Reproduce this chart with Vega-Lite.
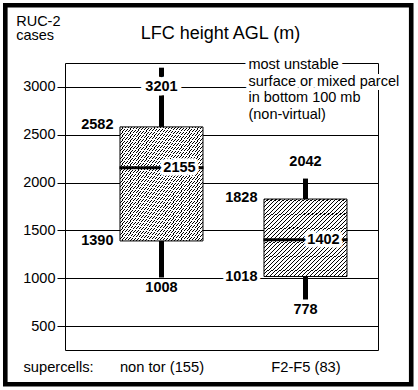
{
"$schema": "https://vega.github.io/schema/vega-lite/v6.json",
"width": 313, "height": 287,
"autosize": {"type": "none"},
"padding": {"left": 65, "top": 63, "right": 40, "bottom": 40},
"background": "white",
"config": {"view": {"stroke": null}, "font": "Liberation Sans", "scale": {"continuousPadding": 0}},
"data": {"values": [
 {"group": "non tor (155)", "pos": 1, "lower": 1008, "q1": 1390, "median": 2155, "q3": 2582, "upper": 3201},
 {"group": "F2-F5 (83)", "pos": 2, "lower": 778, "q1": 1018, "median": 1402, "q3": 1828, "upper": 2042}
]},
"layer": [
 {"transform": [{"filter": "datum.pos == 1"}],
  "mark": {"type": "bar", "width": 83, "stroke": "black", "strokeWidth": 1, "fill": {"gradient": "linear", "x1": 0, "y1": 0, "x2": 1, "y2": 1, "stops": [
{"offset":0,"color":"#000"},{"offset":0.0047,"color":"#000"},{"offset":0.0047,"color":"#fff"},{"offset":0.0175,"color":"#fff"},
{"offset":0.0175,"color":"#000"},{"offset":0.0223,"color":"#000"},{"offset":0.0223,"color":"#fff"},{"offset":0.0351,"color":"#fff"},
{"offset":0.0351,"color":"#000"},{"offset":0.0398,"color":"#000"},{"offset":0.0398,"color":"#fff"},{"offset":0.0526,"color":"#fff"},
{"offset":0.0526,"color":"#000"},{"offset":0.0574,"color":"#000"},{"offset":0.0574,"color":"#fff"},{"offset":0.0702,"color":"#fff"},
{"offset":0.0702,"color":"#000"},{"offset":0.0749,"color":"#000"},{"offset":0.0749,"color":"#fff"},{"offset":0.0877,"color":"#fff"},
{"offset":0.0877,"color":"#000"},{"offset":0.0925,"color":"#000"},{"offset":0.0925,"color":"#fff"},{"offset":0.1053,"color":"#fff"},
{"offset":0.1053,"color":"#000"},{"offset":0.1100,"color":"#000"},{"offset":0.1100,"color":"#fff"},{"offset":0.1228,"color":"#fff"},
{"offset":0.1228,"color":"#000"},{"offset":0.1275,"color":"#000"},{"offset":0.1275,"color":"#fff"},{"offset":0.1404,"color":"#fff"},
{"offset":0.1404,"color":"#000"},{"offset":0.1451,"color":"#000"},{"offset":0.1451,"color":"#fff"},{"offset":0.1579,"color":"#fff"},
{"offset":0.1579,"color":"#000"},{"offset":0.1626,"color":"#000"},{"offset":0.1626,"color":"#fff"},{"offset":0.1754,"color":"#fff"},
{"offset":0.1754,"color":"#000"},{"offset":0.1802,"color":"#000"},{"offset":0.1802,"color":"#fff"},{"offset":0.1930,"color":"#fff"},
{"offset":0.1930,"color":"#000"},{"offset":0.1977,"color":"#000"},{"offset":0.1977,"color":"#fff"},{"offset":0.2105,"color":"#fff"},
{"offset":0.2105,"color":"#000"},{"offset":0.2153,"color":"#000"},{"offset":0.2153,"color":"#fff"},{"offset":0.2281,"color":"#fff"},
{"offset":0.2281,"color":"#000"},{"offset":0.2328,"color":"#000"},{"offset":0.2328,"color":"#fff"},{"offset":0.2456,"color":"#fff"},
{"offset":0.2456,"color":"#000"},{"offset":0.2504,"color":"#000"},{"offset":0.2504,"color":"#fff"},{"offset":0.2632,"color":"#fff"},
{"offset":0.2632,"color":"#000"},{"offset":0.2679,"color":"#000"},{"offset":0.2679,"color":"#fff"},{"offset":0.2807,"color":"#fff"},
{"offset":0.2807,"color":"#000"},{"offset":0.2854,"color":"#000"},{"offset":0.2854,"color":"#fff"},{"offset":0.2982,"color":"#fff"},
{"offset":0.2982,"color":"#000"},{"offset":0.3030,"color":"#000"},{"offset":0.3030,"color":"#fff"},{"offset":0.3158,"color":"#fff"},
{"offset":0.3158,"color":"#000"},{"offset":0.3205,"color":"#000"},{"offset":0.3205,"color":"#fff"},{"offset":0.3333,"color":"#fff"},
{"offset":0.3333,"color":"#000"},{"offset":0.3381,"color":"#000"},{"offset":0.3381,"color":"#fff"},{"offset":0.3509,"color":"#fff"},
{"offset":0.3509,"color":"#000"},{"offset":0.3556,"color":"#000"},{"offset":0.3556,"color":"#fff"},{"offset":0.3684,"color":"#fff"},
{"offset":0.3684,"color":"#000"},{"offset":0.3732,"color":"#000"},{"offset":0.3732,"color":"#fff"},{"offset":0.3860,"color":"#fff"},
{"offset":0.3860,"color":"#000"},{"offset":0.3907,"color":"#000"},{"offset":0.3907,"color":"#fff"},{"offset":0.4035,"color":"#fff"},
{"offset":0.4035,"color":"#000"},{"offset":0.4082,"color":"#000"},{"offset":0.4082,"color":"#fff"},{"offset":0.4211,"color":"#fff"},
{"offset":0.4211,"color":"#000"},{"offset":0.4258,"color":"#000"},{"offset":0.4258,"color":"#fff"},{"offset":0.4386,"color":"#fff"},
{"offset":0.4386,"color":"#000"},{"offset":0.4433,"color":"#000"},{"offset":0.4433,"color":"#fff"},{"offset":0.4561,"color":"#fff"},
{"offset":0.4561,"color":"#000"},{"offset":0.4609,"color":"#000"},{"offset":0.4609,"color":"#fff"},{"offset":0.4737,"color":"#fff"},
{"offset":0.4737,"color":"#000"},{"offset":0.4784,"color":"#000"},{"offset":0.4784,"color":"#fff"},{"offset":0.4912,"color":"#fff"},
{"offset":0.4912,"color":"#000"},{"offset":0.4960,"color":"#000"},{"offset":0.4960,"color":"#fff"},{"offset":0.5088,"color":"#fff"},
{"offset":0.5088,"color":"#000"},{"offset":0.5135,"color":"#000"},{"offset":0.5135,"color":"#fff"},{"offset":0.5263,"color":"#fff"},
{"offset":0.5263,"color":"#000"},{"offset":0.5311,"color":"#000"},{"offset":0.5311,"color":"#fff"},{"offset":0.5439,"color":"#fff"},
{"offset":0.5439,"color":"#000"},{"offset":0.5486,"color":"#000"},{"offset":0.5486,"color":"#fff"},{"offset":0.5614,"color":"#fff"},
{"offset":0.5614,"color":"#000"},{"offset":0.5661,"color":"#000"},{"offset":0.5661,"color":"#fff"},{"offset":0.5789,"color":"#fff"},
{"offset":0.5789,"color":"#000"},{"offset":0.5837,"color":"#000"},{"offset":0.5837,"color":"#fff"},{"offset":0.5965,"color":"#fff"},
{"offset":0.5965,"color":"#000"},{"offset":0.6012,"color":"#000"},{"offset":0.6012,"color":"#fff"},{"offset":0.6140,"color":"#fff"},
{"offset":0.6140,"color":"#000"},{"offset":0.6188,"color":"#000"},{"offset":0.6188,"color":"#fff"},{"offset":0.6316,"color":"#fff"},
{"offset":0.6316,"color":"#000"},{"offset":0.6363,"color":"#000"},{"offset":0.6363,"color":"#fff"},{"offset":0.6491,"color":"#fff"},
{"offset":0.6491,"color":"#000"},{"offset":0.6539,"color":"#000"},{"offset":0.6539,"color":"#fff"},{"offset":0.6667,"color":"#fff"},
{"offset":0.6667,"color":"#000"},{"offset":0.6714,"color":"#000"},{"offset":0.6714,"color":"#fff"},{"offset":0.6842,"color":"#fff"},
{"offset":0.6842,"color":"#000"},{"offset":0.6889,"color":"#000"},{"offset":0.6889,"color":"#fff"},{"offset":0.7018,"color":"#fff"},
{"offset":0.7018,"color":"#000"},{"offset":0.7065,"color":"#000"},{"offset":0.7065,"color":"#fff"},{"offset":0.7193,"color":"#fff"},
{"offset":0.7193,"color":"#000"},{"offset":0.7240,"color":"#000"},{"offset":0.7240,"color":"#fff"},{"offset":0.7368,"color":"#fff"},
{"offset":0.7368,"color":"#000"},{"offset":0.7416,"color":"#000"},{"offset":0.7416,"color":"#fff"},{"offset":0.7544,"color":"#fff"},
{"offset":0.7544,"color":"#000"},{"offset":0.7591,"color":"#000"},{"offset":0.7591,"color":"#fff"},{"offset":0.7719,"color":"#fff"},
{"offset":0.7719,"color":"#000"},{"offset":0.7767,"color":"#000"},{"offset":0.7767,"color":"#fff"},{"offset":0.7895,"color":"#fff"},
{"offset":0.7895,"color":"#000"},{"offset":0.7942,"color":"#000"},{"offset":0.7942,"color":"#fff"},{"offset":0.8070,"color":"#fff"},
{"offset":0.8070,"color":"#000"},{"offset":0.8118,"color":"#000"},{"offset":0.8118,"color":"#fff"},{"offset":0.8246,"color":"#fff"},
{"offset":0.8246,"color":"#000"},{"offset":0.8293,"color":"#000"},{"offset":0.8293,"color":"#fff"},{"offset":0.8421,"color":"#fff"},
{"offset":0.8421,"color":"#000"},{"offset":0.8468,"color":"#000"},{"offset":0.8468,"color":"#fff"},{"offset":0.8596,"color":"#fff"},
{"offset":0.8596,"color":"#000"},{"offset":0.8644,"color":"#000"},{"offset":0.8644,"color":"#fff"},{"offset":0.8772,"color":"#fff"},
{"offset":0.8772,"color":"#000"},{"offset":0.8819,"color":"#000"},{"offset":0.8819,"color":"#fff"},{"offset":0.8947,"color":"#fff"},
{"offset":0.8947,"color":"#000"},{"offset":0.8995,"color":"#000"},{"offset":0.8995,"color":"#fff"},{"offset":0.9123,"color":"#fff"},
{"offset":0.9123,"color":"#000"},{"offset":0.9170,"color":"#000"},{"offset":0.9170,"color":"#fff"},{"offset":0.9298,"color":"#fff"},
{"offset":0.9298,"color":"#000"},{"offset":0.9346,"color":"#000"},{"offset":0.9346,"color":"#fff"},{"offset":0.9474,"color":"#fff"},
{"offset":0.9474,"color":"#000"},{"offset":0.9521,"color":"#000"},{"offset":0.9521,"color":"#fff"},{"offset":0.9649,"color":"#fff"},
{"offset":0.9649,"color":"#000"},{"offset":0.9696,"color":"#000"},{"offset":0.9696,"color":"#fff"},{"offset":0.9825,"color":"#fff"},
{"offset":0.9825,"color":"#000"},{"offset":0.9872,"color":"#000"},{"offset":0.9872,"color":"#fff"},{"offset":1,"color":"#fff"}
  ]}},
  "encoding": {
   "x": {"field": "pos", "type": "quantitative", "scale": {"domain": [0.33, 2.5035], "nice": false, "zero": false, "padding": 0},
     "axis": {"values": [0.33, 1, 2, 2.5035], "title": "supercells:", "grid": true, "gridColor": "black", "gridWidth": 1,
       "gridOpacity": {"condition": {"test": "datum.value == 1 || datum.value == 2", "value": 0}, "value": 1},
       "ticks": false, "tickSize": 0, "domain": false,
       "labelExpr": "datum.value == 1 ? 'non tor (155)' : (datum.value == 2 ? 'F2-F5 (83)' : '')",
       "labelFont": "Liberation Sans", "labelFontSize": 14.7, "labelColor": "black", "labelPadding": 9.5,
       "labelOverlap": false, "labelFlush": false, "labelBaseline": "top",
       "titleX": -42, "titleY": 9.5, "titleAlign": "left", "titleBaseline": "top", "titleFont": "Liberation Sans",
       "titleFontSize": 14.7, "titleFontWeight": "normal", "titleColor": "black"}},
   "y": {"field": "q1", "type": "quantitative", "scale": {"domain": [250, 3250], "nice": false, "zero": false, "padding": 0},
     "axis": {"values": [250, 500, 1000, 1500, 2000, 2500, 3000, 3250], "format": "d",
       "labelExpr": "datum.value == 250 || datum.value == 3250 ? '' : datum.label",
       "grid": true, "gridColor": "black", "gridWidth": 1, "gridOpacity": 1,
       "ticks": true, "tickColor": "black", "tickSize": 8, "tickWidth": 1,
       "tickOpacity": {"condition": {"test": "datum.value == 250 || datum.value == 3250", "value": 0}, "value": 1},
       "domain": false, "labelFont": "Liberation Sans", "labelFontSize": 14.5, "labelColor": "black", "labelPadding": 2,
       "labelOverlap": false, "labelFlush": false,
       "title": ["RUC-2", "cases"], "titleAngle": 0, "titleAlign": "left", "titleBaseline": "alphabetic",
       "titleX": -49.3, "titleY": -38, "titleFont": "Liberation Sans", "titleFontSize": 14.5, "titleFontWeight": "normal",
       "titleLineHeight": 14.5, "titleColor": "black"}},
   "y2": {"field": "q3"}
  }},
 {"transform": [{"filter": "datum.pos == 2"}],
  "mark": {"type": "bar", "width": 83, "stroke": "black", "strokeWidth": 1, "fill": {"gradient": "linear", "x1": 0, "y1": 0, "x2": 1, "y2": 1, "stops": [
{"offset":0,"color":"#000"},{"offset":0.0065,"color":"#000"},{"offset":0.0065,"color":"#fff"},{"offset":0.0241,"color":"#fff"},
{"offset":0.0241,"color":"#000"},{"offset":0.0306,"color":"#000"},{"offset":0.0306,"color":"#fff"},{"offset":0.0482,"color":"#fff"},
{"offset":0.0482,"color":"#000"},{"offset":0.0547,"color":"#000"},{"offset":0.0547,"color":"#fff"},{"offset":0.0723,"color":"#fff"},
{"offset":0.0723,"color":"#000"},{"offset":0.0788,"color":"#000"},{"offset":0.0788,"color":"#fff"},{"offset":0.0964,"color":"#fff"},
{"offset":0.0964,"color":"#000"},{"offset":0.1029,"color":"#000"},{"offset":0.1029,"color":"#fff"},{"offset":0.1205,"color":"#fff"},
{"offset":0.1205,"color":"#000"},{"offset":0.1270,"color":"#000"},{"offset":0.1270,"color":"#fff"},{"offset":0.1446,"color":"#fff"},
{"offset":0.1446,"color":"#000"},{"offset":0.1511,"color":"#000"},{"offset":0.1511,"color":"#fff"},{"offset":0.1687,"color":"#fff"},
{"offset":0.1687,"color":"#000"},{"offset":0.1752,"color":"#000"},{"offset":0.1752,"color":"#fff"},{"offset":0.1928,"color":"#fff"},
{"offset":0.1928,"color":"#000"},{"offset":0.1993,"color":"#000"},{"offset":0.1993,"color":"#fff"},{"offset":0.2169,"color":"#fff"},
{"offset":0.2169,"color":"#000"},{"offset":0.2234,"color":"#000"},{"offset":0.2234,"color":"#fff"},{"offset":0.2410,"color":"#fff"},
{"offset":0.2410,"color":"#000"},{"offset":0.2475,"color":"#000"},{"offset":0.2475,"color":"#fff"},{"offset":0.2651,"color":"#fff"},
{"offset":0.2651,"color":"#000"},{"offset":0.2716,"color":"#000"},{"offset":0.2716,"color":"#fff"},{"offset":0.2892,"color":"#fff"},
{"offset":0.2892,"color":"#000"},{"offset":0.2957,"color":"#000"},{"offset":0.2957,"color":"#fff"},{"offset":0.3133,"color":"#fff"},
{"offset":0.3133,"color":"#000"},{"offset":0.3198,"color":"#000"},{"offset":0.3198,"color":"#fff"},{"offset":0.3373,"color":"#fff"},
{"offset":0.3373,"color":"#000"},{"offset":0.3439,"color":"#000"},{"offset":0.3439,"color":"#fff"},{"offset":0.3614,"color":"#fff"},
{"offset":0.3614,"color":"#000"},{"offset":0.3680,"color":"#000"},{"offset":0.3680,"color":"#fff"},{"offset":0.3855,"color":"#fff"},
{"offset":0.3855,"color":"#000"},{"offset":0.3921,"color":"#000"},{"offset":0.3921,"color":"#fff"},{"offset":0.4096,"color":"#fff"},
{"offset":0.4096,"color":"#000"},{"offset":0.4161,"color":"#000"},{"offset":0.4161,"color":"#fff"},{"offset":0.4337,"color":"#fff"},
{"offset":0.4337,"color":"#000"},{"offset":0.4402,"color":"#000"},{"offset":0.4402,"color":"#fff"},{"offset":0.4578,"color":"#fff"},
{"offset":0.4578,"color":"#000"},{"offset":0.4643,"color":"#000"},{"offset":0.4643,"color":"#fff"},{"offset":0.4819,"color":"#fff"},
{"offset":0.4819,"color":"#000"},{"offset":0.4884,"color":"#000"},{"offset":0.4884,"color":"#fff"},{"offset":0.5060,"color":"#fff"},
{"offset":0.5060,"color":"#000"},{"offset":0.5125,"color":"#000"},{"offset":0.5125,"color":"#fff"},{"offset":0.5301,"color":"#fff"},
{"offset":0.5301,"color":"#000"},{"offset":0.5366,"color":"#000"},{"offset":0.5366,"color":"#fff"},{"offset":0.5542,"color":"#fff"},
{"offset":0.5542,"color":"#000"},{"offset":0.5607,"color":"#000"},{"offset":0.5607,"color":"#fff"},{"offset":0.5783,"color":"#fff"},
{"offset":0.5783,"color":"#000"},{"offset":0.5848,"color":"#000"},{"offset":0.5848,"color":"#fff"},{"offset":0.6024,"color":"#fff"},
{"offset":0.6024,"color":"#000"},{"offset":0.6089,"color":"#000"},{"offset":0.6089,"color":"#fff"},{"offset":0.6265,"color":"#fff"},
{"offset":0.6265,"color":"#000"},{"offset":0.6330,"color":"#000"},{"offset":0.6330,"color":"#fff"},{"offset":0.6506,"color":"#fff"},
{"offset":0.6506,"color":"#000"},{"offset":0.6571,"color":"#000"},{"offset":0.6571,"color":"#fff"},{"offset":0.6747,"color":"#fff"},
{"offset":0.6747,"color":"#000"},{"offset":0.6812,"color":"#000"},{"offset":0.6812,"color":"#fff"},{"offset":0.6988,"color":"#fff"},
{"offset":0.6988,"color":"#000"},{"offset":0.7053,"color":"#000"},{"offset":0.7053,"color":"#fff"},{"offset":0.7229,"color":"#fff"},
{"offset":0.7229,"color":"#000"},{"offset":0.7294,"color":"#000"},{"offset":0.7294,"color":"#fff"},{"offset":0.7470,"color":"#fff"},
{"offset":0.7470,"color":"#000"},{"offset":0.7535,"color":"#000"},{"offset":0.7535,"color":"#fff"},{"offset":0.7711,"color":"#fff"},
{"offset":0.7711,"color":"#000"},{"offset":0.7776,"color":"#000"},{"offset":0.7776,"color":"#fff"},{"offset":0.7952,"color":"#fff"},
{"offset":0.7952,"color":"#000"},{"offset":0.8017,"color":"#000"},{"offset":0.8017,"color":"#fff"},{"offset":0.8193,"color":"#fff"},
{"offset":0.8193,"color":"#000"},{"offset":0.8258,"color":"#000"},{"offset":0.8258,"color":"#fff"},{"offset":0.8434,"color":"#fff"},
{"offset":0.8434,"color":"#000"},{"offset":0.8499,"color":"#000"},{"offset":0.8499,"color":"#fff"},{"offset":0.8675,"color":"#fff"},
{"offset":0.8675,"color":"#000"},{"offset":0.8740,"color":"#000"},{"offset":0.8740,"color":"#fff"},{"offset":0.8916,"color":"#fff"},
{"offset":0.8916,"color":"#000"},{"offset":0.8981,"color":"#000"},{"offset":0.8981,"color":"#fff"},{"offset":0.9157,"color":"#fff"},
{"offset":0.9157,"color":"#000"},{"offset":0.9222,"color":"#000"},{"offset":0.9222,"color":"#fff"},{"offset":0.9398,"color":"#fff"},
{"offset":0.9398,"color":"#000"},{"offset":0.9463,"color":"#000"},{"offset":0.9463,"color":"#fff"},{"offset":0.9639,"color":"#fff"},
{"offset":0.9639,"color":"#000"},{"offset":0.9704,"color":"#000"},{"offset":0.9704,"color":"#fff"},{"offset":0.9880,"color":"#fff"},
{"offset":0.9880,"color":"#000"},{"offset":0.9945,"color":"#000"},{"offset":0.9945,"color":"#fff"},{"offset":1,"color":"#fff"}
  ]}},
  "encoding": {
   "x": {"field": "pos", "type": "quantitative", "scale": {"domain": [0.33, 2.5035], "nice": false, "zero": false, "padding": 0}},
   "y": {"field": "q1", "type": "quantitative", "scale": {"domain": [250, 3250], "nice": false, "zero": false, "padding": 0}},
   "y2": {"field": "q3"}
  }},
 {"mark": {"type": "rule", "color": "black", "strokeWidth": 5, "strokeCap": "butt"},
  "encoding": {"x": {"field": "pos", "type": "quantitative", "scale": {"domain": [0.33, 2.5035], "nice": false, "zero": false, "padding": 0}}, "y": {"field": "lower", "type": "quantitative", "scale": {"domain": [250, 3250], "nice": false, "zero": false, "padding": 0}}, "y2": {"field": "q1"}}},
 {"mark": {"type": "rule", "color": "black", "strokeWidth": 5, "strokeCap": "butt"},
  "encoding": {"x": {"field": "pos", "type": "quantitative", "scale": {"domain": [0.33, 2.5035], "nice": false, "zero": false, "padding": 0}}, "y": {"field": "q3", "type": "quantitative", "scale": {"domain": [250, 3250], "nice": false, "zero": false, "padding": 0}}, "y2": {"field": "upper"}}},
 {"mark": {"type": "tick", "orient": "horizontal", "color": "black", "opacity": 1, "size": 84, "thickness": 3},
  "encoding": {"x": {"field": "pos", "type": "quantitative", "scale": {"domain": [0.33, 2.5035], "nice": false, "zero": false, "padding": 0}}, "y": {"field": "median", "type": "quantitative", "scale": {"domain": [250, 3250], "nice": false, "zero": false, "padding": 0}}}},

 {"mark": {"type": "text", "font": "Liberation Sans Narrow, Liberation Sans", "fontWeight": "bold", "fontSize": 14.5, "align": "right", "baseline": "middle", "dx": -48, "dy": -1.5, "stroke": "white", "strokeWidth": 6, "strokeJoin": "round"},
  "encoding": {"x": {"field": "pos", "type": "quantitative", "scale": {"domain": [0.33, 2.5035], "nice": false, "zero": false, "padding": 0}}, "y": {"field": "q3", "type": "quantitative", "scale": {"domain": [250, 3250], "nice": false, "zero": false, "padding": 0}}, "text": {"field": "q3", "type": "quantitative", "format": "d"}}},
 {"mark": {"type": "text", "font": "Liberation Sans Narrow, Liberation Sans", "fontWeight": "bold", "fontSize": 14.5, "align": "right", "baseline": "middle", "dx": -48, "dy": -1.5, "color": "black"},
  "encoding": {"x": {"field": "pos", "type": "quantitative", "scale": {"domain": [0.33, 2.5035], "nice": false, "zero": false, "padding": 0}}, "y": {"field": "q3", "type": "quantitative", "scale": {"domain": [250, 3250], "nice": false, "zero": false, "padding": 0}}, "text": {"field": "q3", "type": "quantitative", "format": "d"}}},

 {"mark": {"type": "text", "font": "Liberation Sans Narrow, Liberation Sans", "fontWeight": "bold", "fontSize": 14.5, "align": "right", "baseline": "middle", "dx": -48, "dy": 0.5, "stroke": "white", "strokeWidth": 6, "strokeJoin": "round"},
  "encoding": {"x": {"field": "pos", "type": "quantitative", "scale": {"domain": [0.33, 2.5035], "nice": false, "zero": false, "padding": 0}}, "y": {"field": "q1", "type": "quantitative", "scale": {"domain": [250, 3250], "nice": false, "zero": false, "padding": 0}}, "text": {"field": "q1", "type": "quantitative", "format": "d"}}},
 {"mark": {"type": "text", "font": "Liberation Sans Narrow, Liberation Sans", "fontWeight": "bold", "fontSize": 14.5, "align": "right", "baseline": "middle", "dx": -48, "dy": 0.5, "color": "black"},
  "encoding": {"x": {"field": "pos", "type": "quantitative", "scale": {"domain": [0.33, 2.5035], "nice": false, "zero": false, "padding": 0}}, "y": {"field": "q1", "type": "quantitative", "scale": {"domain": [250, 3250], "nice": false, "zero": false, "padding": 0}}, "text": {"field": "q1", "type": "quantitative", "format": "d"}}},

 {"mark": {"type": "text", "font": "Liberation Sans Narrow, Liberation Sans", "fontWeight": "bold", "fontSize": 14.5, "align": "center", "baseline": "middle", "dx": 18, "stroke": "white", "strokeWidth": 7, "strokeJoin": "round"},
  "encoding": {"x": {"field": "pos", "type": "quantitative", "scale": {"domain": [0.33, 2.5035], "nice": false, "zero": false, "padding": 0}}, "y": {"field": "median", "type": "quantitative", "scale": {"domain": [250, 3250], "nice": false, "zero": false, "padding": 0}}, "text": {"field": "median", "type": "quantitative", "format": "d"}}},
 {"mark": {"type": "text", "font": "Liberation Sans Narrow, Liberation Sans", "fontWeight": "bold", "fontSize": 14.5, "align": "center", "baseline": "middle", "dx": 18, "color": "black"},
  "encoding": {"x": {"field": "pos", "type": "quantitative", "scale": {"domain": [0.33, 2.5035], "nice": false, "zero": false, "padding": 0}}, "y": {"field": "median", "type": "quantitative", "scale": {"domain": [250, 3250], "nice": false, "zero": false, "padding": 0}}, "text": {"field": "median", "type": "quantitative", "format": "d"}}},

 {"mark": {"type": "text", "font": "Liberation Sans Narrow, Liberation Sans", "fontWeight": "bold", "fontSize": 14.5, "align": "center", "baseline": "middle", "dy": 11, "stroke": "white", "strokeWidth": 6, "strokeJoin": "round"},
  "encoding": {"x": {"field": "pos", "type": "quantitative", "scale": {"domain": [0.33, 2.5035], "nice": false, "zero": false, "padding": 0}}, "y": {"field": "lower", "type": "quantitative", "scale": {"domain": [250, 3250], "nice": false, "zero": false, "padding": 0}}, "text": {"field": "lower", "type": "quantitative", "format": "d"}}},
 {"mark": {"type": "text", "font": "Liberation Sans Narrow, Liberation Sans", "fontWeight": "bold", "fontSize": 14.5, "align": "center", "baseline": "middle", "dy": 11, "color": "black"},
  "encoding": {"x": {"field": "pos", "type": "quantitative", "scale": {"domain": [0.33, 2.5035], "nice": false, "zero": false, "padding": 0}}, "y": {"field": "lower", "type": "quantitative", "scale": {"domain": [250, 3250], "nice": false, "zero": false, "padding": 0}}, "text": {"field": "lower", "type": "quantitative", "format": "d"}}},

 {"transform": [{"filter": "datum.pos == 1"}],
  "mark": {"type": "text", "font": "Liberation Sans Narrow, Liberation Sans", "fontWeight": "bold", "fontSize": 14.5, "align": "center", "baseline": "middle", "dy": 19.3, "stroke": "white", "strokeWidth": 9, "strokeJoin": "round"},
  "encoding": {"x": {"field": "pos", "type": "quantitative", "scale": {"domain": [0.33, 2.5035], "nice": false, "zero": false, "padding": 0}}, "y": {"field": "upper", "type": "quantitative", "scale": {"domain": [250, 3250], "nice": false, "zero": false, "padding": 0}}, "text": {"field": "upper", "type": "quantitative", "format": "d"}}},
 {"transform": [{"filter": "datum.pos == 1"}],
  "mark": {"type": "text", "font": "Liberation Sans Narrow, Liberation Sans", "fontWeight": "bold", "fontSize": 14.5, "align": "center", "baseline": "middle", "dy": 19.3, "color": "black"},
  "encoding": {"x": {"field": "pos", "type": "quantitative", "scale": {"domain": [0.33, 2.5035], "nice": false, "zero": false, "padding": 0}}, "y": {"field": "upper", "type": "quantitative", "scale": {"domain": [250, 3250], "nice": false, "zero": false, "padding": 0}}, "text": {"field": "upper", "type": "quantitative", "format": "d"}}},
 {"transform": [{"filter": "datum.pos == 2"}],
  "mark": {"type": "text", "font": "Liberation Sans Narrow, Liberation Sans", "fontWeight": "bold", "fontSize": 14.5, "align": "center", "baseline": "middle", "dy": -16.6, "color": "black"},
  "encoding": {"x": {"field": "pos", "type": "quantitative", "scale": {"domain": [0.33, 2.5035], "nice": false, "zero": false, "padding": 0}}, "y": {"field": "upper", "type": "quantitative", "scale": {"domain": [250, 3250], "nice": false, "zero": false, "padding": 0}}, "text": {"field": "upper", "type": "quantitative", "format": "d"}}},

 {"data": {"values": [{"note": "parcel"}]},
  "mark": {"type": "text", "font": "Liberation Sans", "fontSize": 14.5, "lineHeight": 16.5, "align": "left", "baseline": "alphabetic", "stroke": "white", "strokeWidth": 8, "strokeJoin": "round",
    "text": ["most unstable", "surface or mixed parcel", "in bottom 100 mb", "(non-virtual)"]},
  "encoding": {"x": {"datum": 1.604, "type": "quantitative", "scale": {"domain": [0.33, 2.5035], "nice": false, "zero": false, "padding": 0}}, "y": {"datum": 3184, "type": "quantitative", "scale": {"domain": [250, 3250], "nice": false, "zero": false, "padding": 0}}}},
 {"data": {"values": [{"note": "parcel"}]},
  "mark": {"type": "text", "font": "Liberation Sans", "fontSize": 14.5, "lineHeight": 16.5, "align": "left", "baseline": "alphabetic", "color": "black",
    "text": ["most unstable", "surface or mixed parcel", "in bottom 100 mb", "(non-virtual)"]},
  "encoding": {"x": {"datum": 1.604, "type": "quantitative", "scale": {"domain": [0.33, 2.5035], "nice": false, "zero": false, "padding": 0}}, "y": {"datum": 3184, "type": "quantitative", "scale": {"domain": [250, 3250], "nice": false, "zero": false, "padding": 0}}}},

 {"data": {"values": [{"note": "title"}]},
  "mark": {"type": "text", "font": "Liberation Sans", "fontSize": 18, "align": "center", "baseline": "alphabetic", "color": "black", "text": "LFC height AGL (m)"},
  "encoding": {"x": {"datum": 1.4097, "type": "quantitative", "scale": {"domain": [0.33, 2.5035], "nice": false, "zero": false, "padding": 0}}, "y": {"datum": 3497.7, "type": "quantitative", "scale": {"domain": [250, 3250], "nice": false, "zero": false, "padding": 0}}}},

 {"data": {"values": [{"note": "frame"}]},
  "mark": {"type": "rect", "filled": false, "color": "black", "strokeWidth": 4.6},
  "encoding": {"x": {"datum": -0.0846, "type": "quantitative", "scale": {"domain": [0.33, 2.5035], "nice": false, "zero": false, "padding": 0}}, "x2": {"datum": 2.7342},
    "y": {"datum": 3853, "type": "quantitative", "scale": {"domain": [250, 3250], "nice": false, "zero": false, "padding": 0}}, "y2": {"datum": -107.5}}}
]
}
